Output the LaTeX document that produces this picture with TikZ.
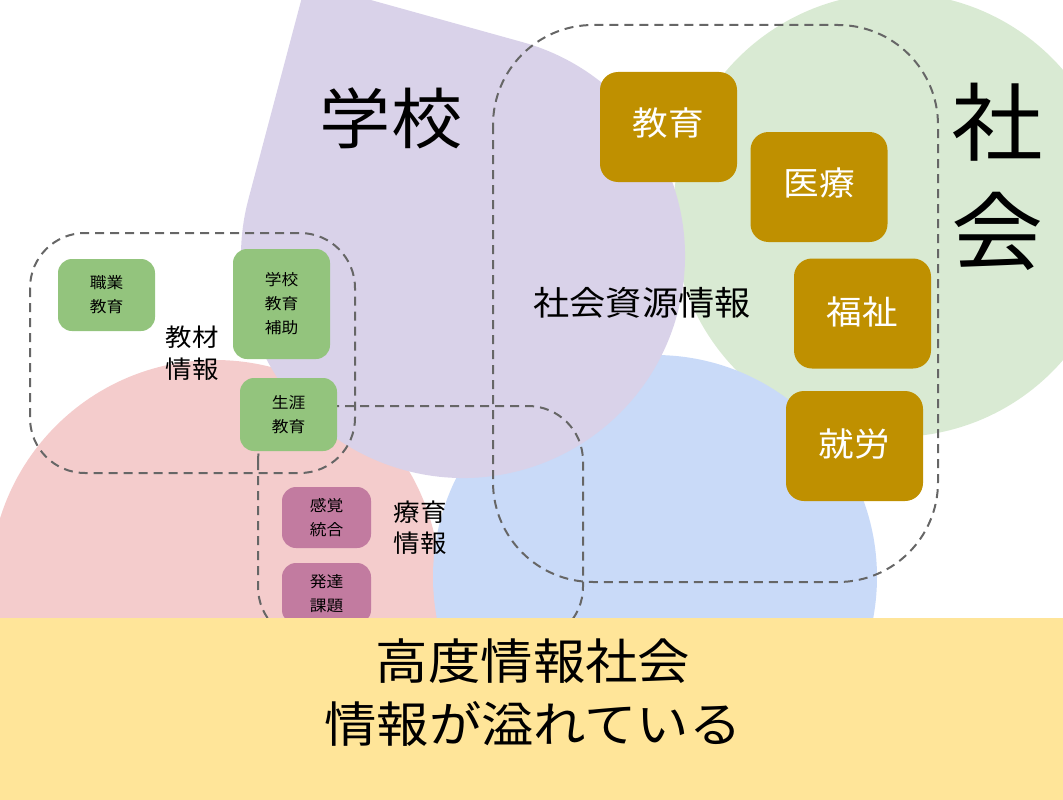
\documentclass[tikz,border=0pt]{standalone}
\usepackage{fontspec}
\setmainfont{Noto Sans CJK JP}[FakeStretch=1.08]
\usepackage{tikz}
\usetikzlibrary{calc}

\definecolor{schoolbg}{HTML}{D9D2E9}
\definecolor{societybg}{HTML}{D9EAD3}
\definecolor{therapybg}{HTML}{F4CCCC}
\definecolor{resourcebg}{HTML}{C9DAF8}
\definecolor{bandbg}{HTML}{FFE599}
\definecolor{boxgreen}{HTML}{93C47D}
\definecolor{boxgold}{HTML}{BF9000}
\definecolor{boxpink}{HTML}{C27BA0}
\definecolor{dashgray}{HTML}{666666}

\begin{document}
\begin{tikzpicture}[x=1pt,y=-1pt,
    smallbox/.style={rounded corners=14pt, minimum width=97pt, inner sep=0pt,
        align=center, font={\fontsize{15.5}{24}\selectfont}},
    greenbox/.style={smallbox, fill=boxgreen},
    pinkbox/.style={smallbox, fill=boxpink, minimum width=89pt, minimum height=61pt},
    goldbox/.style={fill=boxgold, rounded corners=18pt, inner sep=0pt,
        minimum width=137pt, minimum height=110pt},
    goldtext/.style={text=white, inner sep=0pt, font={\fontsize{33}{33}\selectfont}},
    dasharea/.style={draw=dashgray, line width=2pt, dash pattern=on 9pt off 6pt},
    plaintext/.style={inner sep=0pt, align=center}]
    \useasboundingbox (0,0) rectangle (1063,800);
    \clip (0,0) rectangle (1063,800);

    % background blobs
    \fill[societybg] (895,215) circle[radius=222];
    \fill[therapybg] (215,585) circle[radius=225];
    \fill[resourcebg] (655,577) circle[radius=222];
    \fill[schoolbg] (306,-18) -- ($(463,256)+(-165.1:222)$)
        arc[start angle=-165.1, end angle=-434.5, radius=222] -- cycle;

    % dashed groups
    \draw[dasharea, rounded corners=100pt] (493,25) rectangle (938,582);
    \draw[dasharea, rounded corners=55pt] (30,233) rectangle (355,473);
    \draw[dasharea, rounded corners=55pt] (258,406) rectangle (583,642);

    % teaching material boxes
    \node[greenbox, minimum height=72pt] (shokugyo) at (106.5,295) {職業\\教育};
    \node[greenbox, minimum height=110pt] (hojo) at (281.5,304) {学校\\教育\\補助};
    \node[greenbox, minimum height=73pt] (shogai) at (288.5,414.5) {生涯\\教育};

    % therapy boxes
    \node[pinkbox] (kankaku) at (326.5,517.5) {感覚\\統合};
    \node[pinkbox] (hattatsu) at (326.5,593.5) {発達\\課題};

    % social resource boxes
    \node[goldbox] (kyoiku) at (668.5,127) {};
    \node[goldbox] (iryo) at (819,187) {};
    \node[goldbox] (fukushi) at (862.5,313.5) {};
    \node[goldbox] (shuro) at (854.5,446) {};
    \node[goldtext] at ([yshift=4pt]kyoiku.center) {教育};
    \node[goldtext] at ([yshift=4pt]iryo.center) {医療};
    \node[goldtext] at ([yshift=2pt]fukushi.center) {福祉};
    \node[goldtext] at ([yshift=2pt]shuro.center) {就労};

    % labels
    \node[plaintext, font={\fontsize{66}{66}\selectfont}] (gakko) at (391,118) {学校};
    \node[plaintext, font={\fontsize{85}{109}\selectfont}] (shakai) at (997,177) {社\\会};
    \node[plaintext, font={\fontsize{33.5}{34}\selectfont}] (shigen) at (642,303) {社会資源情報};
    \node[plaintext, font={\fontsize{24.5}{32}\selectfont}] (kyozai) at (192,353) {教材\\情報};
    \node[plaintext, font={\fontsize{24.5}{31}\selectfont}] (ryoiku) at (420,528) {療育\\情報};

    % bottom band
    \fill[bandbg] (0,618) rectangle (1063,800);
    \node[plaintext, font={\fontsize{48.5}{63}\selectfont}] (johoka) at (533,693)
        {高度情報社会\\情報が溢れている};
\end{tikzpicture}
\end{document}
